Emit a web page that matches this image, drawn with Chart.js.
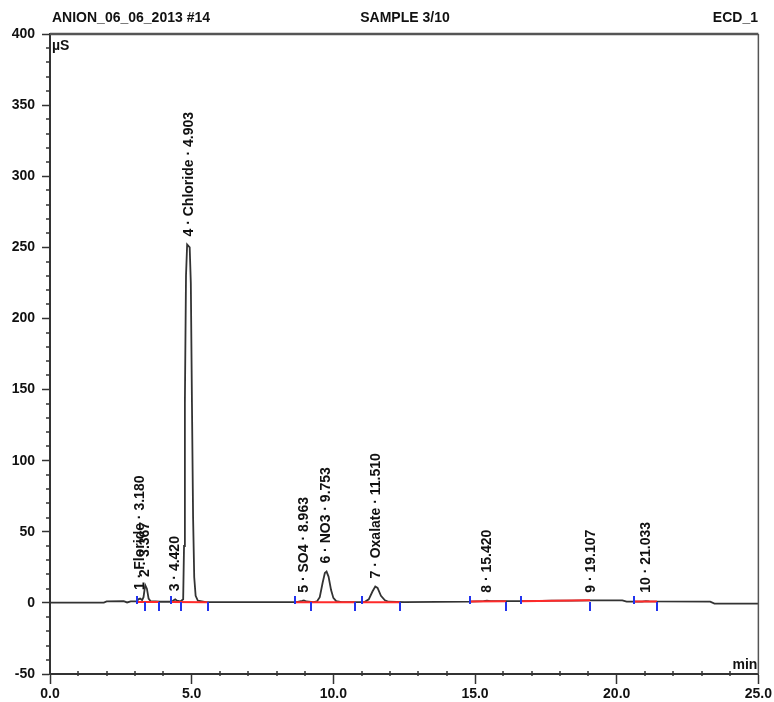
<!DOCTYPE html>
<html>
<head>
<meta charset="utf-8">
<script src="https://cdn.jsdelivr.net/npm/chart.js@4.4.1/dist/chart.umd.min.js"></script>
<style>
  html, body { margin: 0; padding: 0; background: #fff; }
  canvas { display: block; }
</style>
</head>
<body>
<canvas id="chart" width="774" height="702"></canvas>
<script>
// chromatogram trace (min, µS)
const traceTime = [0.0, 1.9, 2.0, 2.6, 2.72, 2.85, 3.05, 3.12, 3.18, 3.25, 3.30, 3.36, 3.42, 3.48, 3.55, 3.9,
    4.3, 4.38, 4.42, 4.48, 4.60, 4.70, 4.73, 4.76, 4.80, 4.84, 4.93, 4.97, 5.01, 5.05, 5.09, 5.14, 5.22, 5.5,
    8.7, 8.9, 8.96, 9.05, 9.3, 9.42, 9.52, 9.62, 9.70, 9.76, 9.83, 9.92, 10.0, 10.1, 10.3,
    11.1, 11.25, 11.38, 11.48, 11.56, 11.68, 11.82, 11.95, 12.5,
    14.8, 15.3, 15.42, 15.55, 17.0, 17.7, 18.4, 19.1, 20.2, 20.35, 20.9, 21.03, 21.15, 23.3, 23.45, 25.0];
const traceSignal = [0.2, 0.2, 1.0, 1.2, 0.3, 1.0, 1.0, 2.5, 3.0, 2.0, 4.0, 12.5, 10.0, 3.0, 1.2, 0.8,
    0.8, 2.0, 2.5, 1.5, 1.0, 2.5, 40, 140, 230, 252, 250, 225, 140, 60, 18, 5, 1.5, 0.6,
    0.6, 1.5, 1.8, 1.0, 0.6, 1.0, 4, 14, 21, 22, 18.5, 9, 3.5, 1.2, 0.6,
    0.6, 2.5, 8, 11.5, 10.5, 5, 1.8, 0.8, 0.6,
    0.9, 1.3, 1.6, 1.3, 1.3, 1.6, 1.6, 1.8, 1.8, 0.9, 0.9, 1.3, 1.0, 0.9, -0.5, -0.5];

// peak labels
const peakNames = ['1 · Floride · 3.180', '2 · 3.367', '3 · 4.420', '4 · Chloride · 4.903', '5 · SO4 · 8.963',
    '6 · NO3 · 9.753', '7 · Oxalate · 11.510', '8 · 15.420', '9 · 19.107', '10 · 21.033'];
const peakTimes = [3.18, 3.367, 4.42, 4.903, 8.963, 9.753, 11.51, 15.42, 19.107, 21.033];
const peakApex = [3.5, 12.5, 2.5, 252, 1.5, 22, 11.5, 1.5, 1.5, 1.5];

// integration baselines (red) and delimiters (blue)
const baseStart = [3.07, 4.27, 8.66, 11.0, 14.81, 16.62, 20.62];
const baseEnd = [3.84, 5.56, 10.77, 12.35, 16.09, 19.06, 21.42];
const baseStartVal = [0.6, 0.6, 0.5, 0.5, 1.0, 1.2, 0.9];
const baseEndVal = [0.6, 0.5, 0.5, 0.5, 1.1, 1.8, 0.9];
const tickUp = [3.07, 4.27, 8.66, 11.0, 14.81, 16.62, 20.62];
const tickDown = [3.34, 3.84, 4.62, 5.56, 9.21, 10.77, 12.35, 16.09, 19.06, 21.42];

const xTicks = [0, 5, 10, 15, 20, 25];
const yTicks = [-50, 0, 50, 100, 150, 200, 250, 300, 350, 400];

const FONT = 'Liberation Sans, Arial, sans-serif';

const tracePoints = traceTime.map((t, i) => ({ x: t, y: traceSignal[i] }));
const redPoints = [];
baseStart.forEach((s, i) => {
    redPoints.push({ x: s, y: baseStartVal[i] });
    redPoints.push({ x: baseEnd[i], y: baseEndVal[i] });
    redPoints.push({ x: baseEnd[i], y: null });
});

const extras = {
    id: 'extras',
    afterDatasetsDraw(chart) {
        const ctx = chart.ctx;
        const xs = chart.scales.x;
        const ys = chart.scales.y;
        const area = chart.chartArea;
        ctx.save();

        // delimiters
        ctx.strokeStyle = '#2233ee';
        ctx.lineWidth = 2;
        const y0 = ys.getPixelForValue(0);
        tickUp.forEach(t => {
            const px = Math.round(xs.getPixelForValue(t));
            ctx.beginPath(); ctx.moveTo(px, y0 + 1); ctx.lineTo(px, y0 - 7); ctx.stroke();
        });
        tickDown.forEach(t => {
            const px = Math.round(xs.getPixelForValue(t));
            ctx.beginPath(); ctx.moveTo(px, y0 - 1); ctx.lineTo(px, y0 + 8); ctx.stroke();
        });

        // peak labels
        ctx.fillStyle = '#111';
        ctx.font = 'bold 14px ' + FONT;
        ctx.textAlign = 'left';
        ctx.textBaseline = 'middle';
        peakNames.forEach((name, i) => {
            const px = xs.getPixelForValue(peakTimes[i]);
            const py = ys.getPixelForValue(peakApex[i]) - 8;
            ctx.save();
            ctx.translate(px, py);
            ctx.rotate(-Math.PI / 2);
            ctx.fillText(name, 0, 0);
            ctx.restore();
        });

        // minor ticks
        ctx.strokeStyle = '#333';
        ctx.lineWidth = 1.5;
        for (let m = 1; m < 25; m++) {
            if (m % 5 === 0) continue;
            const px = Math.round(xs.getPixelForValue(m));
            ctx.beginPath(); ctx.moveTo(px, area.bottom - 3); ctx.lineTo(px, area.bottom + 2); ctx.stroke();
        }
        for (let v = -40; v < 400; v += 10) {
            if (v % 50 === 0) continue;
            const py = Math.round(ys.getPixelForValue(v));
            ctx.beginPath(); ctx.moveTo(area.left - 4, py); ctx.lineTo(area.left, py); ctx.stroke();
        }

        // frame top and right
        ctx.strokeStyle = '#555';
        ctx.lineWidth = 2.5;
        ctx.beginPath(); ctx.moveTo(area.left, area.top); ctx.lineTo(area.right, area.top); ctx.stroke();
        ctx.lineWidth = 1.5;
        ctx.beginPath(); ctx.moveTo(area.right, area.top); ctx.lineTo(area.right, area.bottom); ctx.stroke();

        // header and unit texts
        ctx.fillStyle = '#111';
        ctx.font = 'bold 14px ' + FONT;
        ctx.textBaseline = 'middle';
        ctx.textAlign = 'left';
        ctx.fillText('ANION_06_06_2013 #14', 52, 18);
        ctx.textAlign = 'center';
        ctx.fillText('SAMPLE 3/10', 405, 18);
        ctx.textAlign = 'right';
        ctx.fillText('ECD_1', 758, 18);
        ctx.textAlign = 'left';
        ctx.fillText('µS', area.left + 2, area.top + 12);
        ctx.textAlign = 'right';
        ctx.fillText('min', area.right - 1, area.bottom - 9);
        ctx.restore();
    }
};

new Chart(document.getElementById('chart'), {
    type: 'line',
    data: {
        datasets: [{
            label: 'ECD_1',
            data: tracePoints,
            borderColor: '#333',
            borderWidth: 1.8,
            pointRadius: 0,
            tension: 0,
            order: 2
        }, {
            label: 'baseline',
            data: redPoints,
            borderColor: '#ff2a2a',
            borderWidth: 2,
            pointRadius: 0,
            spanGaps: false,
            order: 1
        }]
    },
    options: {
        responsive: false,
        animation: false,
        devicePixelRatio: 1,
        layout: { padding: { top: 34, right: 13, left: 0, bottom: 0 } },
        plugins: { legend: { display: false }, tooltip: { enabled: false } },
        scales: {
            x: {
                type: 'linear',
                min: 0,
                max: 25,
                afterFit(scale) { scale.height = 28; },
                afterBuildTicks(scale) { scale.ticks = xTicks.map(v => ({ value: v })); },
                ticks: {
                    color: '#111',
                    font: { family: FONT, size: 14, weight: 'bold' },
                    padding: 2,
                    maxRotation: 0,
                    callback: v => v.toFixed(1)
                },
                grid: { drawOnChartArea: false, tickLength: 10, tickColor: '#333', tickWidth: 1.5 },
                border: { color: '#333', width: 2 }
            },
            y: {
                min: -50,
                max: 400,
                afterFit(scale) { scale.width = 50; },
                afterBuildTicks(scale) { scale.ticks = yTicks.map(v => ({ value: v })); },
                ticks: {
                    color: '#111',
                    font: { family: FONT, size: 14, weight: 'bold' },
                    padding: 7
                },
                grid: { drawOnChartArea: false, tickLength: 8, tickColor: '#333', tickWidth: 1.5 },
                border: { color: '#333', width: 2 }
            }
        }
    },
    plugins: [extras]
});
</script>
</body>
</html>
